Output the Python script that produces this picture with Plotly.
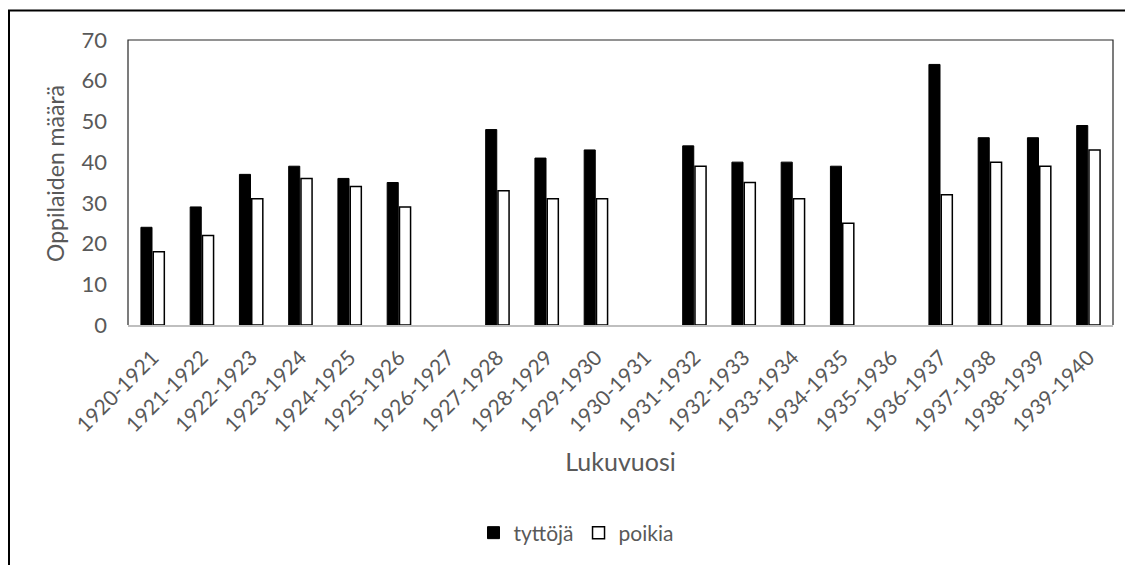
import plotly.graph_objects as go

categories = ["1920-1921", "1921-1922", "1922-1923", "1923-1924", "1924-1925",
              "1925-1926", "1926-1927", "1927-1928", "1928-1929", "1929-1930",
              "1930-1931", "1931-1932", "1932-1933", "1933-1934", "1934-1935",
              "1935-1936", "1936-1937", "1937-1938", "1938-1939", "1939-1940"]
tyttoja = [24, 29, 37, 39, 36, 35, None, 48, 41, 43, None, 44, 40, 40, 39, None, 64, 46, 46, 49]
poikia = [18, 22, 31, 36, 34, 29, None, 33, 31, 31, None, 39, 35, 31, 25, None, 32, 40, 39, 43]
y_ticks = [0, 10, 20, 30, 40, 50, 60, 70]

FONT = "Lato"
GREY = "#595959"

fig = go.Figure()
fig.add_trace(go.Bar(x=categories, y=tyttoja, name="tyttöjä",
                     marker=dict(color="black", line=dict(color="black", width=1))))
fig.add_trace(go.Bar(x=categories, y=poikia, name="poikia",
                     marker=dict(color="white", line=dict(color="black", width=1.5))))

# page body has an 8px margin, so the figure is drawn 8px in from the window edge
OFF = 8
W, H = 1133 - OFF, 565 - OFF
L, T = 128 - OFF, 40 - OFF
R = W - (1113 - OFF)
B = H - (325 - OFF)
pw, ph = W - L - R, H - T - B

def px(x):  # window pixel -> paper
    return (x - OFF - L) / pw

def py(y):
    return (H - B - (y - OFF)) / ph

fig.update_layout(
    width=W, height=H,
    margin=dict(l=L, r=R, t=T, b=B, autoexpand=False),
    paper_bgcolor="white", plot_bgcolor="white",
    barmode="group", bargap=0.5, bargroupgap=0.1,
    font=dict(family=FONT, color=GREY),
    showlegend=True,
    legend=dict(orientation="h", x=px(576), y=py(533), xanchor="center", yanchor="middle",
                font=dict(size=21, color=GREY), traceorder="normal"),
    xaxis=dict(
        automargin=False,
        tickangle=-45, tickfont=dict(size=21, color=GREY),
        ticklabelstandoff=10,
        showline=True, linecolor="#bfbfbf", linewidth=2,
        ticks="", showgrid=False,
        title=dict(text="Lukuvuosi", font=dict(size=25, color=GREY), standoff=18),
    ),
    yaxis=dict(
        automargin=False,
        range=[0, 70], tickvals=y_ticks, tickfont=dict(size=22, color=GREY),
        showgrid=False, zeroline=False, showline=False, ticks="",
        ticklabelstandoff=20,
    ),
    annotations=[
        dict(text="Oppilaiden määrä", xref="paper", yref="paper",
             x=px(55), y=py(174), xanchor="center", yanchor="middle",
             textangle=-90, showarrow=False, font=dict(size=23, color=GREY)),
    ],
    shapes=[
        dict(type="path", xref="paper", yref="paper",
             path="M 0,0 L 0,1 L 1,1 L 1,0",
             line=dict(color="#262626", width=1.2), layer="above"),
        dict(type="path", xref="paper", yref="paper",
             path=f"M {px(9)},{py(H + 40)} L {px(9)},{py(10.5)} L {px(W + 40)},{py(10.5)}",
             line=dict(color="black", width=2), layer="above"),
    ],
)

fig.write_html("out.html")
